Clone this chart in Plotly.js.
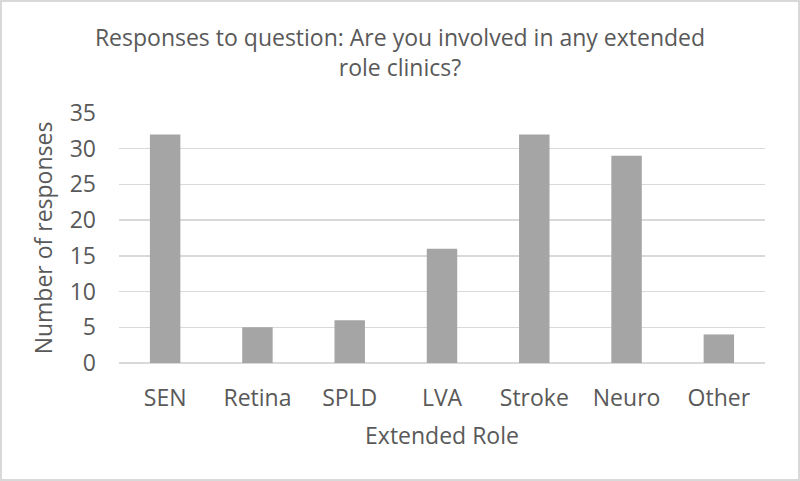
<!DOCTYPE html>
<html>
<head>
<meta charset="utf-8">
<script src="https://cdn.plot.ly/plotly-3.0.1.min.js"></script>
<style>
html,body{margin:0;padding:0;background:#fff;}
#chart{width:800px;height:481px;box-sizing:border-box;border:2px solid #d9d9d9;}
</style>
</head>
<body>
<div id="chart"></div>
<script>
const categories = ["SEN", "Retina", "SPLD", "LVA", "Stroke", "Neuro", "Other"];
const responses = [32, 5, 6, 16, 32, 29, 4];
const yTicks = [0, 5, 10, 15, 20, 25, 30, 35];

const textColor = "#595959";
const fontFamily = "'Open Sans', sans-serif";
const fs = 23;

const trace = {
  type: "bar",
  x: categories,
  y: responses,
  marker: {color: "#a5a5a5"},
  hoverinfo: "x+y"
};

const layout = {
  width: 796,
  height: 477,
  margin: {l: 117, r: 33, t: 111, b: 116, pad: 0},
  paper_bgcolor: "#ffffff",
  plot_bgcolor: "#ffffff",
  bargap: 0.67,
  showlegend: false,
  font: {family: fontFamily, color: textColor, size: fs},
  title: {
    text: "Responses to question: Are you involved in any extended<br>role clinics?",
    font: {family: fontFamily, size: fs, color: textColor},
    x: 0.5, xanchor: "center", xref: "container",
    y: 0.907, yanchor: "middle", yref: "container"
  },
  xaxis: {
    type: "category",
    showgrid: false,
    zeroline: false,
    showline: false,
    ticks: "",
    ticklabelstandoff: 19,
    tickfont: {family: fontFamily, size: fs, color: textColor},
    title: {text: "Extended Role", font: {family: fontFamily, size: fs, color: textColor}, standoff: 15}
  },
  yaxis: {
    range: [0, 35],
    tickvals: yTicks,
    ticktext: yTicks.map(String),
    showgrid: true,
    gridcolor: "#d9d9d9",
    gridwidth: 1.5,
    zeroline: true,
    zerolinecolor: "#d9d9d9",
    zerolinewidth: 1.5,
    showline: false,
    ticks: "",
    ticklabelstandoff: 22,
    tickfont: {family: fontFamily, size: fs, color: textColor},
    title: {text: "Number of responses", font: {family: fontFamily, size: fs, color: textColor}, standoff: 10}
  }
};

Plotly.newPlot("chart", [trace], layout, {displayModeBar: false, staticPlot: true});
</script>
</body>
</html>
